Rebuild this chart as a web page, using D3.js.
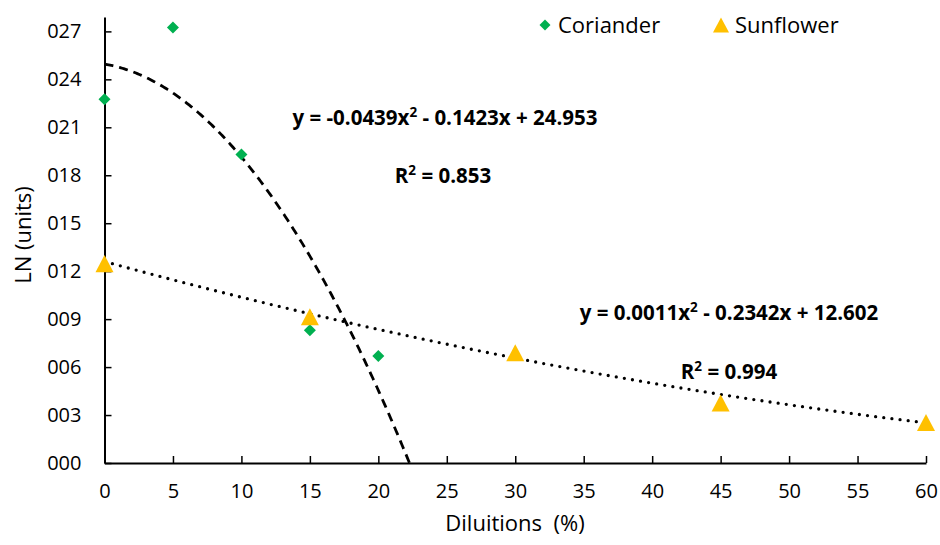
<!DOCTYPE html>
<html><head><meta charset="utf-8">
<script src="https://cdn.jsdelivr.net/npm/d3@7"></script>
<style>body{margin:0;background:#fff}svg{display:block}text{font-family:"Open Sans",Lato,sans-serif;fill:#000}</style>
</head><body><svg id="c" width="940" height="545"></svg>
<script>
const corianderX = [0, 5, 10, 15, 20];
const corianderY = [22.75, 27.25, 19.3, 8.3, 6.7];
const sunflowerX = [0, 15, 30, 45, 60];
const sunflowerY = [12.47, 9.15, 6.9, 3.75, 2.53];
const corianderFit = [-0.0439, -0.1423, 24.953];
const sunflowerFit = [0.0011, -0.2342, 12.602];
const xTicks = [0,5,10,15,20,25,30,35,40,45,50,55,60];
const yTicks = [0,3,6,9,12,15,18,21,24,27];
const eq1 = ["y = -0.0439x", "2", " - 0.1423x + 24.953"];
const r1 = ["R", "2", " = 0.853"];
const eq2 = ["y = 0.0011x", "2", " - 0.2342x + 12.602"];
const r2 = ["R", "2", " = 0.994"];

const svg = d3.select("#c");
const x = d3.scaleLinear().domain([0,60]).range([104.5,926]);
const y = d3.scaleLinear().domain([0,27.9]).range([463,17]);

// axes
const gx = svg.append("g").attr("transform","translate(0,463)")
  .call(d3.axisBottom(x).tickValues(xTicks).tickSizeInner(-7).tickSizeOuter(0).tickPadding(21));
const gy = svg.append("g").attr("transform","translate(104.5,0)")
  .call(d3.axisLeft(y).tickValues(yTicks).tickFormat(d3.format("03d")).tickSizeInner(-7).tickSizeOuter(0).tickPadding(23));
[gx,gy].forEach(g=>{
  g.select(".domain").attr("stroke","#000").attr("stroke-width",2);
  g.selectAll(".tick line").attr("stroke","#000").attr("stroke-width",1.5);
  g.selectAll(".tick text").attr("font-size",20).attr("fill","#000").style("font-family",'"Open Sans",sans-serif');
});
gx.selectAll(".tick text").attr("dy","0.71em");

// trend lines
const poly = c => v => c[0]*v*v + c[1]*v + c[2];
const f1 = poly(corianderFit), f2 = poly(sunflowerFit);
const xEnd1 = (-corianderFit[1] - Math.sqrt(corianderFit[1]**2 - 4*corianderFit[0]*corianderFit[2]))/(2*corianderFit[0]);
const line = d3.line().x(d=>x(d[0])).y(d=>y(d[1]));
svg.append("path").datum(d3.range(0, xEnd1, 0.1).concat([xEnd1]).map(v=>[v,f1(v)]))
  .attr("d",line).attr("fill","none").attr("stroke","#000").attr("stroke-width",2.8).attr("stroke-dasharray","9,6");
svg.append("path").datum(d3.range(0, 60.01, 0.25).map(v=>[v,f2(v)]))
  .attr("d",line).attr("fill","none").attr("stroke","#000").attr("stroke-width",3.3)
  .attr("stroke-linecap","round").attr("stroke-dasharray","0,8.2");

// markers
const diamond = d3.symbol().type(d3.symbolSquare).size(72);
svg.append("g").selectAll("path").data(corianderX.map((v,i)=>[v,corianderY[i]])).join("path")
  .attr("d",diamond).attr("fill","#00B050")
  .attr("transform",d=>`translate(${x(d[0])},${y(d[1])}) rotate(45)`);
const triType = {draw(ctx, size){ const w = Math.sqrt(size); const h = w*0.95;
  ctx.moveTo(0,-h/2); ctx.lineTo(w/2,h/2); ctx.lineTo(-w/2,h/2); ctx.closePath(); }};
const tri = d3.symbol().type(triType).size(18*18);
svg.append("g").selectAll("path").data(sunflowerX.map((v,i)=>[v,sunflowerY[i]])).join("path")
  .attr("d",tri).attr("fill","#FFC000")
  .attr("transform",d=>`translate(${x(d[0])},${y(d[1])})`);

// equation labels
function eq(parts, cx, cy){
  const t = svg.append("text").attr("x",cx).attr("y",cy).attr("text-anchor","middle")
    .attr("font-size",20.5).attr("font-weight","bold");
  t.append("tspan").text(parts[0]);
  t.append("tspan").attr("dy",-8).attr("font-size",13.5).text(parts[1]);
  t.append("tspan").attr("dy",8).text(parts[2]);
}
eq(eq1, 445, 125);
eq(r1, 443, 183);
eq(eq2, 729, 320);
eq(r2, 729, 379);

// legend
svg.append("path").attr("d",d3.symbol().type(d3.symbolSquare).size(60))
  .attr("fill","#00B050").attr("transform","translate(545,25) rotate(45)");
svg.append("text").attr("x",558).attr("y",33).attr("font-size",22).text("Coriander");
svg.append("path").attr("d",d3.symbol().type(triType).size(16*16))
  .attr("fill","#FFC000").attr("transform","translate(721,25)");
svg.append("text").attr("x",735).attr("y",33).attr("font-size",22).text("Sunflower");

// axis titles
svg.append("text").attr("x",515).attr("y",531).attr("text-anchor","middle").attr("font-size",22)
  .attr("xml:space","preserve").style("white-space","pre").text("Diluitions  (%)");
svg.append("text").attr("transform","translate(31,235) rotate(-90)").attr("text-anchor","middle")
  .attr("font-size",22).text("LN (units)");
</script></body></html>
